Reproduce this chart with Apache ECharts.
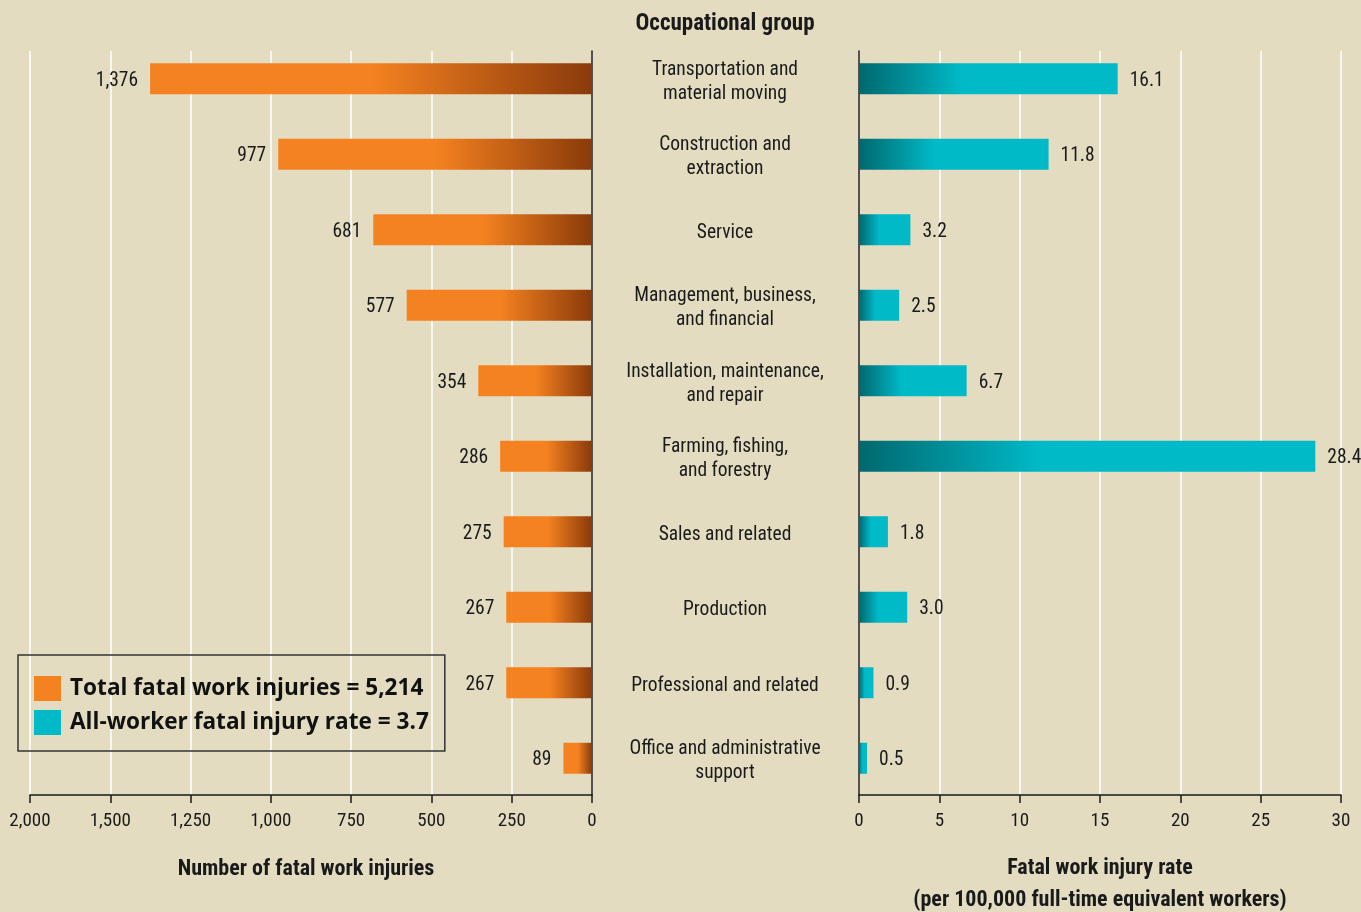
<!DOCTYPE html>
<html>
<head>
    <meta charset="utf-8">
    <title>Fatal work injuries by occupational group</title>
    <script src="https://cdn.jsdelivr.net/npm/echarts@6/dist/echarts.min.js"></script>
    <style>
        html, body { margin: 0; padding: 0; background: #e3dcc1; }
        #chart { width: 1361px; height: 912px; }
    </style>
</head>
<body>
<div id="chart"></div>
<script>
    // occupational groups, top to bottom
    var groups = [
        'Transportation and\nmaterial moving',
        'Construction and\nextraction',
        'Service',
        'Management, business,\nand financial',
        'Installation, maintenance,\nand repair',
        'Farming, fishing,\nand forestry',
        'Sales and related',
        'Production',
        'Professional and related',
        'Office and administrative\nsupport'
    ];
    var injuries = [1376, 977, 681, 577, 354, 286, 275, 267, 267, 89];
    var rates = [16.1, 11.8, 3.2, 2.5, 6.7, 28.4, 1.8, 3.0, 0.9, 0.5];

    // left axis tick labels as printed (last one reads 2,000 in the original)
    var countTicks = ['0', '250', '500', '750', '1,000', '1,250', '1,500', '2,000'];
    var rateTicks = ['0', '5', '10', '15', '20', '25', '30'];

    var totalName = 'Total fatal work injuries = 5,214';
    var rateName = 'All-worker fatal injury rate = 3.7';

    var narrow = "'Roboto Condensed', 'Liberation Sans Narrow', 'DejaVu Sans Condensed', sans-serif";
    var ink = '#1a1a1a';
    var orange = '#f58220', brown = '#8a3a0a';
    var teal = '#00bac8', darkTeal = '#00686e';

    var chart = echarts.init(document.getElementById('chart'));

    var frameAxis = {
        axisLine: { show: true, lineStyle: { color: ink, width: 1.5 } },
        axisTick: { show: true, length: 8, lineStyle: { color: ink, width: 1.5 } },
        splitLine: { show: true, lineStyle: { color: '#ffffff', width: 1.5 } },
        axisLabel: { color: ink, fontFamily: narrow, fontSize: 19, margin: 17 }
    };

    var titleText = { fontFamily: narrow, fontWeight: 'bold', fontSize: 22, color: ink };

    var option = {
        backgroundColor: '#e3dcc1',
        animation: false,
        title: [
            { text: 'Occupational group', left: 725, top: 13, padding: 0, textAlign: 'center',
              textStyle: Object.assign({}, titleText, { fontSize: 23 }) },
            { text: 'Number of fatal work injuries', left: 306, top: 858, padding: 0, textAlign: 'center',
              textStyle: titleText },
            { text: 'Fatal work injury rate\n(per 100,000 full-time equivalent workers)', left: 1100, top: 852,
              padding: 0, textAlign: 'center',
              textStyle: Object.assign({}, titleText, { lineHeight: 32 }) }
        ],
        legend: {
            orient: 'vertical',
            left: 18, top: 655,
            padding: [21, 16, 16, 16],
            borderColor: '#333',
            borderWidth: 1.5,
            itemWidth: 27, itemHeight: 25, itemGap: 9,
            icon: 'rect',
            selectedMode: false,
            textStyle: { fontFamily: "'Open Sans', sans-serif", fontWeight: 'bold', fontSize: 22.6, color: '#111', padding: [0, 0, 0, 4] },
            data: [
                { name: totalName, itemStyle: { color: orange } },
                { name: rateName, itemStyle: { color: teal } }
            ]
        },
        grid: [
            { left: 30, right: 769, top: 51, bottom: 117 },   // left frame
            { left: 30, right: 769, top: 41, bottom: 116 },   // left bars
            { left: 859, right: 20, top: 51, bottom: 117 },   // right frame
            { left: 859, right: 20, top: 41, bottom: 116 },   // right bars
            { left: 859, right: 20, top: 44, bottom: 113 }    // group names
        ],
        xAxis: [
            Object.assign({}, frameAxis, {
                gridIndex: 0, type: 'value', inverse: true, min: 0, max: 1750, interval: 250,
                axisLabel: Object.assign({}, frameAxis.axisLabel, {
                    formatter: function (v) { return countTicks[Math.round(v / 250)]; }
                })
            }),
            { gridIndex: 1, type: 'value', inverse: true, min: 0, max: 1750, show: false },
            Object.assign({}, frameAxis, {
                gridIndex: 2, type: 'value', min: 0, max: 30, interval: 5,
                axisLabel: Object.assign({}, frameAxis.axisLabel, {
                    formatter: function (v) { return rateTicks[Math.round(v / 5)]; }
                })
            }),
            { gridIndex: 3, type: 'value', min: 0, max: 30, show: false },
            { gridIndex: 4, type: 'value', min: 0, max: 30, show: false }
        ],
        yAxis: [
            { gridIndex: 0, type: 'value', position: 'right', min: 0, max: 1,
              axisLine: { show: true, lineStyle: { color: ink, width: 1.5 } },
              axisTick: { show: false }, axisLabel: { show: false }, splitLine: { show: false } },
            { gridIndex: 1, type: 'category', data: groups, inverse: true, show: false },
            { gridIndex: 2, type: 'value', position: 'left', min: 0, max: 1,
              axisLine: { show: true, lineStyle: { color: ink, width: 1.5 } },
              axisTick: { show: false }, axisLabel: { show: false }, splitLine: { show: false } },
            { gridIndex: 3, type: 'category', data: groups, inverse: true, show: false },
            { gridIndex: 4, type: 'category', data: groups, inverse: true,
              axisLine: { show: false }, axisTick: { show: false }, splitLine: { show: false },
              axisLabel: { show: true, align: 'center', margin: 134, color: ink,
                           fontFamily: narrow, fontSize: 19.5, lineHeight: 24 } }
        ],
        series: [
            {
                name: totalName, type: 'bar', xAxisIndex: 1, yAxisIndex: 1,
                data: injuries, barWidth: 31,
                itemStyle: {
                    color: new echarts.graphic.LinearGradient(0, 0, 1, 0, [
                        { offset: 0, color: orange },
                        { offset: 0.5, color: orange },
                        { offset: 1, color: brown }
                    ])
                },
                label: {
                    show: true, position: 'left', distance: 12, offset: [0, 2], color: ink,
                    fontFamily: narrow, fontSize: 19.5,
                    formatter: function (p) { return p.value.toLocaleString('en-US'); }
                }
            },
            {
                name: rateName, type: 'bar', xAxisIndex: 3, yAxisIndex: 3,
                data: rates, barWidth: 31,
                itemStyle: {
                    color: new echarts.graphic.LinearGradient(0, 0, 1, 0, [
                        { offset: 0, color: darkTeal },
                        { offset: 0.4, color: teal },
                        { offset: 1, color: teal }
                    ])
                },
                label: {
                    show: true, position: 'right', distance: 12, offset: [0, 2], color: ink,
                    fontFamily: narrow, fontSize: 19.5,
                    formatter: function (p) { return p.value.toFixed(1); }
                }
            }
        ]
    };

    chart.setOption(option);
</script>
</body>
</html>
